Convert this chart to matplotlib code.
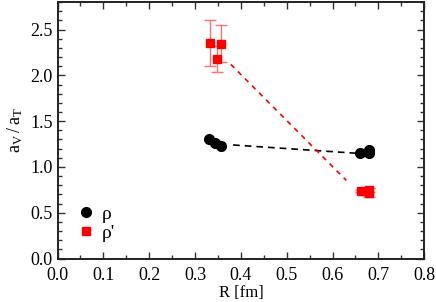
import numpy as np
import matplotlib
matplotlib.use("Agg")
import matplotlib.pyplot as plt
from matplotlib.ticker import MultipleLocator

plt.rcParams['font.family'] = ['Liberation Serif', 'DejaVu Serif']
plt.rcParams['mathtext.default'] = 'regular'
plt.rcParams['font.size'] = 13

# rho data
rho_r = [0.331, 0.344, 0.356, 0.660, 0.679, 0.679]
rho_a = [1.30, 1.263, 1.234, 1.154, 1.187, 1.154]

# rho' data
rhop_r = [0.333, 0.347, 0.357, 0.662, 0.679, 0.679]
rhop_a = [2.357, 2.18, 2.346, 0.734, 0.745, 0.72]
rhop_err = [0.25, 0.14, 0.2, 0.01, 0.02, 0.05]

# dashed guide lines (endpoints)
rho_line_r = [0.383, 0.65]
rho_line_a = [1.24, 1.15]
rhop_line_r = [0.378, 0.63]
rhop_line_a = [2.12, 0.853]

fig = plt.figure(figsize=(4.36, 3.02), dpi=100)
ax = fig.add_axes([0.132, 0.144, 0.841, 0.849])

ax.plot(rho_line_r, rho_line_a, color='black', ls='--', lw=1.2, dashes=(4, 3))
ax.plot(rhop_line_r, rhop_line_a, color='red', ls='--', lw=1.2, dashes=(3, 3))

ax.errorbar(rhop_r, rhop_a, yerr=rhop_err, fmt='none', ecolor='#ff7070',
            elinewidth=1.0, capsize=4, capthick=1.0, zorder=2)
ax.plot(rho_r, rho_a, 'o', color='black', ms=7, ls='none', label='ρ', zorder=3)
ax.plot(rhop_r, rhop_a, 's', color='red', ms=6, ls='none', label="ρ'", zorder=3)

ax.set_xlim(0, 0.8)
ax.set_ylim(0, 2.8)
ax.xaxis.set_major_locator(MultipleLocator(0.1))
ax.xaxis.set_minor_locator(MultipleLocator(0.05))
ax.yaxis.set_major_locator(MultipleLocator(0.5))
ax.yaxis.set_minor_locator(MultipleLocator(0.1))
ax.xaxis.set_major_formatter(plt.FormatStrFormatter('%.1f'))
ax.yaxis.set_major_formatter(plt.FormatStrFormatter('%.1f'))
ax.tick_params(which='both', direction='in', top=True, right=True, color='#333333')
ax.tick_params(which='major', length=5, width=1)
ax.tick_params(which='minor', length=3, width=1)
ax.tick_params(axis='x', pad=6)
for s in ax.spines.values():
    s.set_linewidth(1.4)
    s.set_color('#222222')

ax.set_xlabel('R [fm]', fontsize=12, labelpad=1)
ax.set_ylabel('$a_V\\,/\\,a_T$', fontsize=13, labelpad=4)

ax.legend(loc='lower left', bbox_to_anchor=(0.014, 0.012), frameon=False,
          handletextpad=0.3, labelspacing=0.05, fontsize=14, handlelength=1.0,
          borderaxespad=0.3)

fig.savefig('out.png', dpi=100)
